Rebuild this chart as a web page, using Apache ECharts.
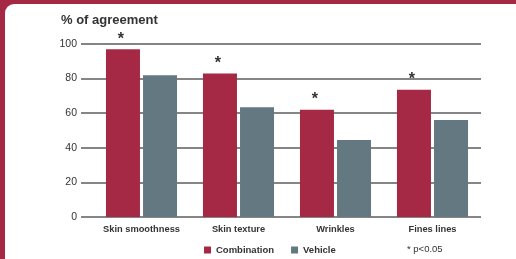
<!DOCTYPE html>
<html>
<head>
<meta charset="utf-8">
<script src="https://cdn.jsdelivr.net/npm/echarts@6/dist/echarts.min.js"></script>
<style>
    html, body { margin: 0; padding: 0; }
    #chart { width: 516px; height: 259px; }
</style>
</head>
<body>
<div id="chart"></div>
<script>
var categories = ["Skin smoothness", "Skin texture", "Wrinkles", "Fines lines"];
var combination = [97, 83, 62, 73.5];
var vehicle = [82, 63.5, 44.5, 56];
var significant = [true, true, true, true];
var yTicks = [0, 20, 40, 60, 80, 100];

var red = "#a52944";
var slate = "#637880";
var gridColor = "#858585";
var textColor = "#333333";
var font = "Liberation Sans, Arial, sans-serif";

var chart = echarts.init(document.getElementById("chart"));

var option = {
    backgroundColor: red,
    animation: false,
    textStyle: { fontFamily: font },
    graphic: [
        {
            type: "rect",
            z: -10,
            silent: true,
            shape: { x: 5, y: 4, width: 530, height: 270, r: 9 },
            style: { fill: "#ffffff" }
        },
        {
            type: "text",
            left: 61,
            top: 14,
            style: { text: "% of agreement", fontSize: 13, fontWeight: "bold", fill: textColor, fontFamily: font }
        },
        {
            type: "text",
            left: 407,
            top: 244,
            style: { text: "* p<0.05", fontSize: 9.5, fill: textColor, fontFamily: font }
        }
    ],
    legend: {
        left: 199,
        top: 240,
        icon: "rect",
        itemWidth: 7,
        itemHeight: 7,
        itemGap: 17,
        textStyle: { color: textColor, fontSize: 9.5, fontWeight: "bold", fontFamily: font },
        data: ["Combination", "Vehicle"]
    },
    grid: { left: 93, right: 35, top: 44, bottom: 42 },
    xAxis: {
        type: "category",
        data: categories,
        axisLine: { show: false },
        axisTick: { show: false },
        axisLabel: { color: textColor, fontSize: 9.3, fontWeight: "bold", margin: 8, interval: 0 }
    },
    yAxis: {
        type: "value",
        min: yTicks[0],
        max: yTicks[yTicks.length - 1],
        interval: yTicks[1] - yTicks[0],
        axisLine: { show: false },
        axisTick: { show: true, length: 12, lineStyle: { color: gridColor, width: 2 } },
        axisLabel: { color: textColor, fontSize: 10.5, margin: 16 },
        splitLine: { lineStyle: { color: gridColor, width: 2 } }
    },
    series: [
        {
            name: "Combination",
            type: "bar",
            data: combination,
            barWidth: 34,
            barGap: "9%",
            itemStyle: { color: red },
            label: {
                show: true,
                position: "top",
                distance: 2,
                offset: [-2, 0],
                fontSize: 16,
                fontWeight: "bold",
                color: textColor,
                formatter: function (p) { return significant[p.dataIndex] ? "*" : ""; }
            }
        },
        {
            name: "Vehicle",
            type: "bar",
            data: vehicle,
            barWidth: 34,
            itemStyle: { color: slate }
        }
    ]
};

chart.setOption(option);
</script>
</body>
</html>
